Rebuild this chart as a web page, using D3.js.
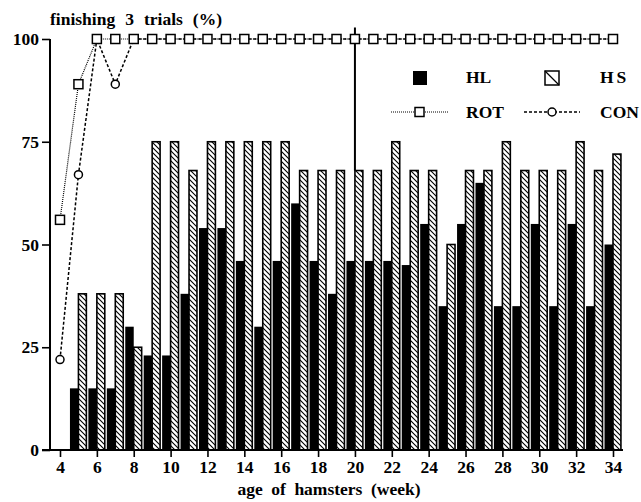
<!DOCTYPE html>
<html>
<head>
<meta charset="utf-8">
<script src="https://cdnjs.cloudflare.com/ajax/libs/d3/7.8.5/d3.min.js"></script>
<style>
    body { margin: 0; background: #fff; }
    svg text { font-family: "Liberation Serif", "DejaVu Serif", serif; font-weight: bold; }
</style>
</head>
<body>
<svg id="chart"></svg>
<script>
// weeks for the lines
const weeks = d3.range(4, 35);
// weeks that have bars
const barWeeks = d3.range(5, 35);

const hl = [15, 15, 15, 30, 23, 23, 38, 54, 54, 46, 30, 46, 60, 46, 38,
            46, 46, 46, 45, 55, 35, 55, 65, 35, 35, 55, 35, 55, 35, 50];
const hs = [38, 38, 38, 25, 75, 75, 68, 75, 75, 75, 75, 75, 68, 68, 68,
            68, 68, 75, 68, 68, 50, 68, 68, 75, 68, 68, 68, 75, 68, 72];

const rot = [56, 89, 100, 100, 100, 100, 100, 100, 100, 100, 100, 100, 100, 100, 100, 100,
             100, 100, 100, 100, 100, 100, 100, 100, 100, 100, 100, 100, 100, 100, 100];
const con = [22, 67, 100, 89, 100, 100, 100, 100, 100, 100, 100, 100, 100, 100, 100, 100,
             100, 100, 100, 100, 100, 100, 100, 100, 100, 100, 100, 100, 100, 100, 100];

const xTicks = d3.range(4, 35, 2);
const yTicks = [0, 25, 50, 75, 100];
const markWeek = 20;

const W = 641, H = 502;

let svg = d3.select("#chart")
    .attr("width", W)
    .attr("height", H);

let x = d3.scaleLinear().domain([4, 34]).range([60, 613]);
let y = d3.scaleLinear().domain([0, 100]).range([450, 39]);
let step = x(5) - x(4);

//hatch pattern
svg.append("defs").append("pattern")
    .attr("id", "hatch")
    .attr("patternUnits", "userSpaceOnUse")
    .attr("width", 5)
    .attr("height", 5)
    .append("path")
        .attr("d", "M0,0L5,5M-1,4L1,6M4,-1L6,1")
        .attr("stroke", "#000")
        .attr("stroke-width", 1.1);

//bars
let bars = barWeeks.map((w, i) => ({ week: w, hl: hl[i], hs: hs[i] }));

svg.selectAll("rect.hl")
    .data(bars)
    .enter()
    .append("rect")
        .attr("class", "hl")
        .attr("x", d => x(d.week) - step * 0.46)
        .attr("y", d => y(d.hl))
        .attr("width", step * 0.46)
        .attr("height", d => y(0) - y(d.hl))
        .attr("fill", "#000");

svg.selectAll("rect.hs")
    .data(bars)
    .enter()
    .append("rect")
        .attr("class", "hs")
        .attr("x", d => x(d.week))
        .attr("y", d => y(d.hs))
        .attr("width", step * 0.43)
        .attr("height", d => y(0) - y(d.hs))
        .attr("fill", "url(#hatch)")
        .attr("stroke", "#000")
        .attr("stroke-width", 1.6);

//vertical mark at week 20
let hs20 = hs[barWeeks.indexOf(markWeek)];
svg.append("line")
    .attr("x1", x(markWeek)).attr("x2", x(markWeek))
    .attr("y1", y(102.8)).attr("y2", y(hs20))
    .attr("stroke", "#000")
    .attr("stroke-width", 2);

//lines
let line = d3.line()
    .x((d, i) => x(weeks[i]))
    .y(d => y(d));

svg.append("path")
    .datum(con)
    .attr("d", line)
    .attr("fill", "none")
    .attr("stroke", "#000")
    .attr("stroke-width", 1.5)
    .attr("stroke-dasharray", "3,2");

svg.append("path")
    .datum(rot)
    .attr("d", line)
    .attr("fill", "none")
    .attr("stroke", "#000")
    .attr("stroke-width", 1.2)
    .attr("stroke-dasharray", "1,1");

svg.selectAll("circle.con")
    .data(con)
    .enter()
    .append("circle")
        .attr("cx", (d, i) => x(weeks[i]))
        .attr("cy", d => y(d))
        .attr("r", 4)
        .attr("fill", "#fff")
        .attr("stroke", "#000")
        .attr("stroke-width", 1.5);

svg.selectAll("rect.rot")
    .data(rot)
    .enter()
    .append("rect")
        .attr("x", (d, i) => x(weeks[i]) - 4.5)
        .attr("y", d => y(d) - 4.5)
        .attr("width", 9)
        .attr("height", 9)
        .attr("fill", "#fff")
        .attr("stroke", "#000")
        .attr("stroke-width", 1.5);

//axes
let yAxis = svg.append("g")
    .attr("transform", "translate(50,0)")
    .call(d3.axisLeft(y).tickValues(yTicks).tickSize(8).tickPadding(3));

let xAxis = svg.append("g")
    .attr("transform", "translate(0,450)")
    .call(d3.axisBottom(x).tickValues(xTicks).tickSize(7).tickPadding(4));

[yAxis, xAxis].forEach(a => {
    a.select(".domain").remove();
    a.selectAll(".tick line").attr("stroke", "#000").attr("stroke-width", 1.6);
    a.selectAll(".tick text")
        .attr("fill", "#000")
        .attr("font-size", "17.5px")
        .attr("font-family", "Liberation Serif")
        .attr("font-weight", "bold");
});

svg.append("line")
    .attr("x1", 50).attr("x2", 50)
    .attr("y1", y(0)).attr("y2", y(100))
    .attr("stroke", "#000").attr("stroke-width", 2);

svg.append("line")
    .attr("x1", 42).attr("x2", 623)
    .attr("y1", y(0)).attr("y2", y(0))
    .attr("stroke", "#000").attr("stroke-width", 2);

//words laid out one by one so the wide gaps match
function spacedText(str, x0, y0, gap, anchorMiddle) {
    let g = svg.append("g");
    let cx = 0;
    str.split(" ").forEach(w => {
        let t = g.append("text")
            .text(w)
            .attr("x", cx)
            .attr("y", 0)
            .attr("font-size", "17.5px");
        cx += t.node().getComputedTextLength() + gap;
    });
    let width = cx - gap;
    let left = anchorMiddle ? x0 - width / 2 : x0;
    g.attr("transform", `translate(${left},${y0})`);
}

spacedText("finishing 3 trials (%)", 50, 25, 10, false);
spacedText("age of hamsters (week)", 329, 495, 8.5, true);

//legend
let legend = svg.append("g");

legend.append("rect")
    .attr("x", 413).attr("y", 71)
    .attr("width", 14).attr("height", 14)
    .attr("fill", "#000");

legend.append("rect")
    .attr("x", 545).attr("y", 71)
    .attr("width", 14).attr("height", 14)
    .attr("fill", "#fff")
    .attr("stroke", "#000")
    .attr("stroke-width", 1.5);

legend.append("line")
    .attr("x1", 545).attr("y1", 71)
    .attr("x2", 559).attr("y2", 85)
    .attr("stroke", "#000")
    .attr("stroke-width", 1.2);

legend.append("line")
    .attr("x1", 391).attr("x2", 448)
    .attr("y1", 112).attr("y2", 112)
    .attr("stroke", "#000")
    .attr("stroke-width", 1.2)
    .attr("stroke-dasharray", "1,1");

legend.append("rect")
    .attr("x", 415).attr("y", 107.5)
    .attr("width", 9).attr("height", 9)
    .attr("fill", "#fff")
    .attr("stroke", "#000")
    .attr("stroke-width", 1.5);

legend.append("line")
    .attr("x1", 524).attr("x2", 580)
    .attr("y1", 112).attr("y2", 112)
    .attr("stroke", "#000")
    .attr("stroke-width", 1.5)
    .attr("stroke-dasharray", "3,2");

legend.append("circle")
    .attr("cx", 552).attr("cy", 112)
    .attr("r", 4)
    .attr("fill", "#fff")
    .attr("stroke", "#000")
    .attr("stroke-width", 1.5);

let labels = [
    { t: "HL", x: 466, y: 83 },
    { t: "HS", x: 600, y: 83 },
    { t: "ROT", x: 466, y: 118 },
    { t: "CON", x: 600, y: 118 }
];

legend.selectAll("text")
    .data(labels)
    .enter()
    .append("text")
        .text(d => d.t)
        .attr("x", d => d.x)
        .attr("y", d => d.y)
        .attr("font-size", "17.5px")
        .attr("letter-spacing", d => d.t == "HS" ? "3px" : "0px");
</script>
</body>
</html>
